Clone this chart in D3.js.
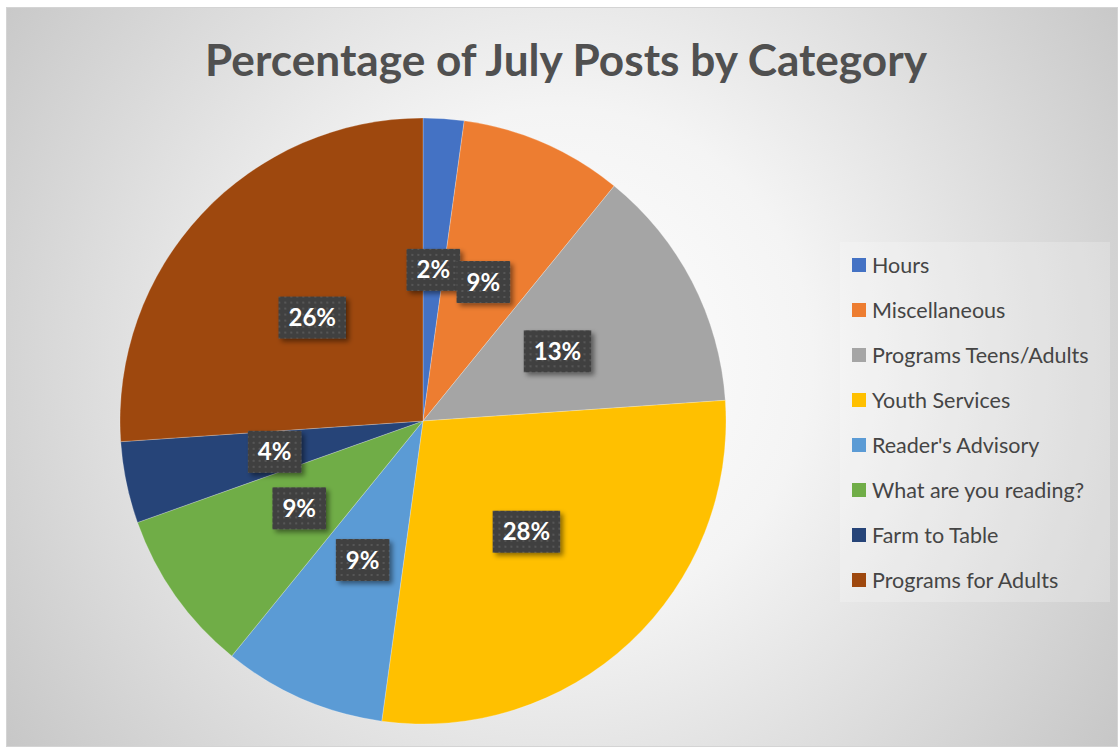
<!DOCTYPE html>
<html>
<head>
<meta charset="utf-8">
<script src="https://cdn.jsdelivr.net/npm/d3@7"></script>
<style>
  html, body { margin: 0; padding: 0; background: #ffffff; }
  svg { display: block; }
</style>
</head>
<body>
<svg id="chart" width="1118" height="748"></svg>
<script>
// July post counts per category
const categories = ["Hours", "Miscellaneous", "Programs Teens/Adults", "Youth Services",
                    "Reader's Advisory", "What are you reading?", "Farm to Table", "Programs for Adults"];
const postCounts = [1, 4, 6, 13, 4, 4, 2, 12];
const sliceColors = ["#4472C4", "#ED7D31", "#A5A5A5", "#FFC000",
                     "#5B9BD5", "#70AD47", "#264478", "#9E480E"];
const chartTitle = "Percentage of July Posts by Category";

const svg = d3.select("#chart");
const defs = svg.append("defs");

// soft radial backdrop
const bg = defs.append("radialGradient").attr("id", "bgGrad")
  .attr("gradientUnits", "userSpaceOnUse")
  .attr("cx", 560).attr("cy", 360).attr("r", 720);
bg.append("stop").attr("offset", "0%").attr("stop-color", "#ffffff");
bg.append("stop").attr("offset", "35%").attr("stop-color", "#f4f4f4");
bg.append("stop").attr("offset", "100%").attr("stop-color", "#c2c2c2");

// dotted fill for the value labels
const pat = defs.append("pattern").attr("id", "dots")
  .attr("patternUnits", "userSpaceOnUse").attr("width", 6).attr("height", 6);
pat.append("rect").attr("width", 6).attr("height", 6).attr("fill", "#404040");
pat.append("rect").attr("x", 2).attr("y", 2).attr("width", 2).attr("height", 2).attr("fill", "#575757");

const shadow = defs.append("filter").attr("id", "shadow")
  .attr("x", "-20%").attr("y", "-20%").attr("width", "150%").attr("height", "160%");
shadow.append("feDropShadow").attr("dx", 3).attr("dy", 3).attr("stdDeviation", 2.5)
  .attr("flood-color", "#000").attr("flood-opacity", 0.45);

svg.append("rect").attr("x", 6.5).attr("y", 7.5).attr("width", 1111).attr("height", 739)
  .attr("fill", "url(#bgGrad)").attr("stroke", "#d4d4d4").attr("stroke-width", 1);

svg.append("text").attr("x", 566).attr("y", 76)
  .attr("text-anchor", "middle")
  .attr("font-family", "Lato, 'Open Sans', sans-serif")
  .attr("font-weight", "bold").attr("font-size", 44)
  .attr("fill", "#505050")
  .attr("textLength", 722).attr("lengthAdjust", "spacingAndGlyphs")
  .text(chartTitle);

// pie
const cx = 423, cy = 421, R = 303;
const total = d3.sum(postCounts);
const color = d3.scaleOrdinal().domain(categories).range(sliceColors);
const pie = d3.pie().sort(null).value(d => d.v);
const data = categories.map((c, i) => ({ c, v: postCounts[i] }));
const arcs = pie(data);
const arc = d3.arc().innerRadius(0).outerRadius(R);
const labelArc = d3.arc().innerRadius(0).outerRadius(R);

const g = svg.append("g").attr("transform", `translate(${cx},${cy})`);
g.selectAll("path.slice").data(arcs).join("path")
  .attr("class", "slice")
  .attr("d", arc)
  .attr("fill", d => color(d.data.c))
  .attr("stroke", "#ffffff").attr("stroke-width", 0.4).attr("stroke-opacity", 0.6);

const pct = d3.format(".0%");
const labels = g.selectAll("g.lbl").data(arcs).join("g")
  .attr("class", "lbl")
  .attr("transform", d => `translate(${labelArc.centroid(d)})`);

labels.each(function(d) {
  const sel = d3.select(this);
  sel.append("text")
    .attr("text-anchor", "middle").attr("dy", "0.36em")
    .attr("font-family", "Lato, 'Open Sans', sans-serif")
    .attr("font-weight", "bold").attr("font-size", 24)
    .attr("fill", "#ffffff")
    .text(pct(d.data.v / total));
  const w = this.querySelector("text").getComputedTextLength();
  sel.insert("rect", "text")
    .attr("x", -w / 2 - 10).attr("y", -21)
    .attr("width", w + 20).attr("height", 42)
    .attr("fill", "url(#dots)")
    .attr("filter", "url(#shadow)");
});

// legend
const legX = 840, legY = 242;
svg.append("rect").attr("x", legX).attr("y", legY).attr("width", 270).attr("height", 360)
  .attr("fill", "#ffffff").attr("fill-opacity", 0.22);
const leg = svg.append("g");
const rowY = d3.scalePoint().domain(categories).range([265, 580]);
const items = leg.selectAll("g").data(categories).join("g")
  .attr("transform", d => `translate(852,${rowY(d)})`);
items.append("rect").attr("x", 0).attr("y", -7).attr("width", 14).attr("height", 14)
  .attr("fill", d => color(d));
items.append("text").attr("x", 20).attr("dy", "0.36em")
  .attr("font-family", "Lato, 'Open Sans', sans-serif")
  .attr("font-size", 21.5).attr("fill", "#454545")
  .text(d => d);
</script>
</body>
</html>
